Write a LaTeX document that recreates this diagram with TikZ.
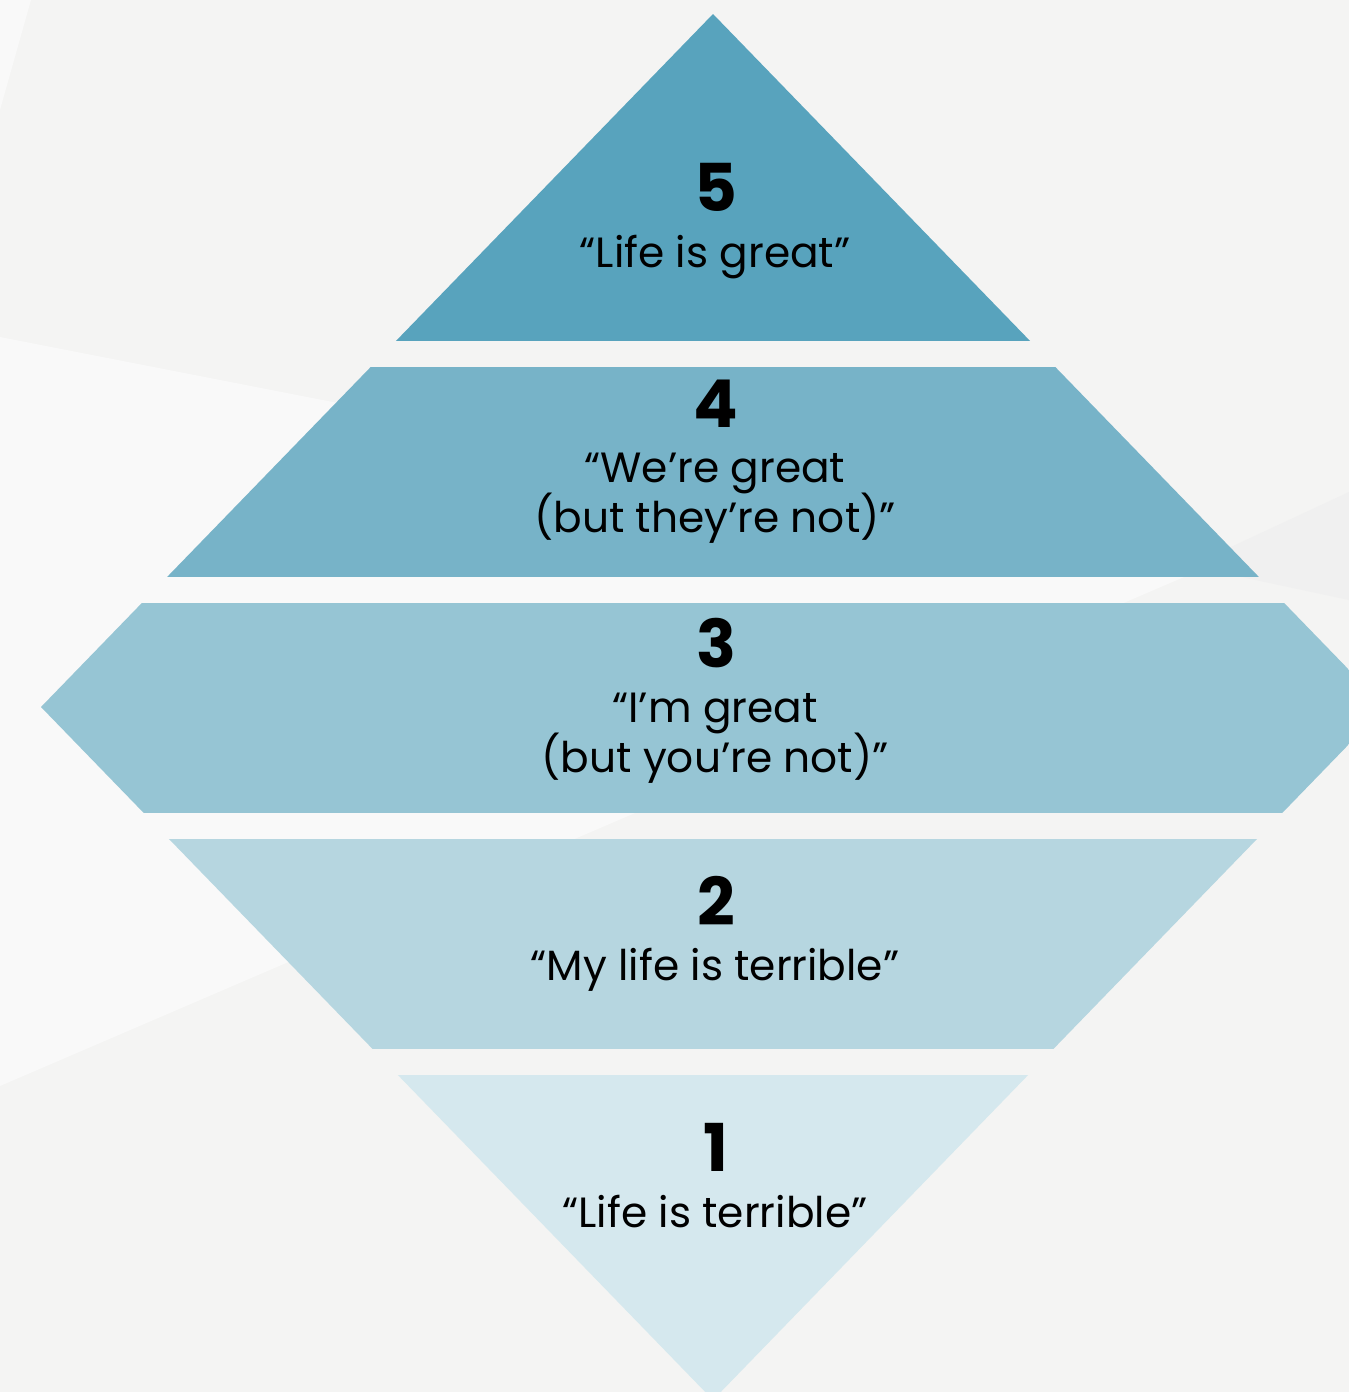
\documentclass[tikz,border=0pt]{standalone}
\usepackage{fontspec}
\setmainfont{Poppins}
\definecolor{bg}{HTML}{F4F4F3}
\definecolor{bglight}{HTML}{F9F9F9}
\definecolor{bgdark}{HTML}{F0F0F0}
\definecolor{cfive}{HTML}{58A3BD}
\definecolor{cfour}{HTML}{77B3C8}
\definecolor{cthree}{HTML}{96C5D4}
\definecolor{ctwo}{HTML}{B6D6E0}
\definecolor{cone}{HTML}{D5E8EE}
\tikzset{
  numlabel/.style={anchor=base, inner sep=0pt, font=\fontsize{66}{70}\selectfont\bfseries, text=black},
  txtlabel/.style={anchor=base, inner sep=0pt, font=\fontsize{42.3}{50}\selectfont, text=black},
}
\begin{document}
\begin{tikzpicture}[x=1pt,y=-1pt]
\useasboundingbox (0,0) rectangle (1349,1392);
% background
\fill[bg] (0,0) rectangle (1349,1392);
\fill[bglight] (0,337) -- (1198,571) -- (0,1086) -- cycle;
\fill[bglight] (0,0) -- (31,0) -- (0,110) -- cycle;
\fill[bgdark] (1190,566) -- (1349,492) -- (1349,600) -- cycle;
% diamond bands
\begin{scope}
\clip (713,14) -- (41,707) -- (713,1400) -- (1385,707) -- cycle;
\fill[cfive] (0,0) rectangle (1400,341);
\fill[cfour] (0,367) rectangle (1400,577);
\fill[cthree] (0,603) rectangle (1400,813);
\fill[ctwo] (0,839) rectangle (1400,1049);
\fill[cone] (0,1075) rectangle (1400,1420);
\end{scope}
% labels
\node[numlabel] (n5) at (716,211) {5};
\node[txtlabel] (t5) at (715,267) {“Life is great”};
\node[numlabel] (n4) at (716,427) {4};
\node[txtlabel] (t4a) at (715,482) {“We’re great};
\node[txtlabel] (t4b) at (715,532) {(but they’re not)”};
\node[numlabel] (n3) at (716,667) {3};
\node[txtlabel] (t3a) at (715,722) {“I’m great};
\node[txtlabel] (t3b) at (715,772) {(but you’re not)”};
\node[numlabel] (n2) at (716,925) {2};
\node[txtlabel] (t2) at (715,980) {“My life is terrible”};
\node[numlabel] (n1) at (716,1171) {1};
\node[txtlabel] (t1) at (715,1227) {“Life is terrible”};
\end{tikzpicture}
\end{document}
